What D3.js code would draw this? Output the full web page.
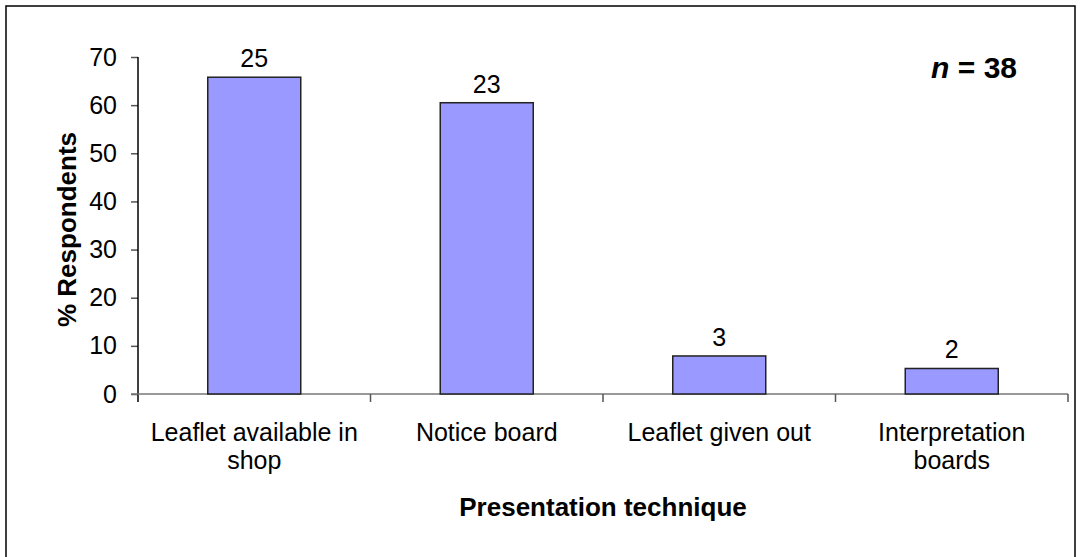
<!DOCTYPE html>
<html>
<head>
<meta charset="utf-8">
<script src="https://cdn.jsdelivr.net/npm/d3@7"></script>
<style>
  body { margin: 0; background: #fff; }
  svg text { font-family: "Liberation Sans", Arial, sans-serif; fill: #000; }
</style>
</head>
<body>
<div id="chart"></div>
<script>

// Data
const categories = ["Leaflet available in shop", "Notice board", "Leaflet given out", "Interpretation boards"];
const percents = [65.8, 60.5, 7.9, 5.3];
const counts = [25, 23, 3, 2];
const yTicks = [0, 10, 20, 30, 40, 50, 60, 70];
const sampleSize = 38;

const width = 1080;
const height = 557;
const margin = { top: 57, right: 12, bottom: 163, left: 138 };

const svg = d3.select("#chart").append("svg")
    .attr("width", width)
    .attr("height", height);

// Outer chart border (bottom edge sits below the window)
svg.append("rect")
    .attr("x", 6).attr("y", 6)
    .attr("width", 1069).attr("height", 570)
    .attr("fill", "none")
    .attr("stroke", "#000")
    .attr("stroke-width", 1.5);

const x = d3.scaleBand()
    .domain(categories)
    .range([margin.left, width - margin.right])
    .paddingInner(0.6)
    .paddingOuter(0.3);

const y = d3.scaleLinear()
    .domain([0, 70])
    .range([height - margin.bottom, margin.top]);

const y0 = y(0);

// Y axis
const yAxis = svg.append("g")
    .attr("transform", "translate(" + margin.left + ",0)")
    .call(d3.axisLeft(y).tickValues(yTicks).tickSize(7).tickPadding(14));
yAxis.select(".domain").remove();
yAxis.selectAll(".tick line").attr("stroke", "#555").attr("stroke-width", 1.5);
yAxis.selectAll(".tick text").style("font-size", "25px");

// y axis line, running a little below zero like Excel
svg.append("line")
    .attr("x1", margin.left).attr("x2", margin.left)
    .attr("y1", margin.top).attr("y2", y0 + 8)
    .attr("stroke", "#000").attr("stroke-width", 1.5);

// X axis line and category boundary ticks
svg.append("line")
    .attr("x1", margin.left - 7).attr("x2", width - margin.right)
    .attr("y1", y0).attr("y2", y0)
    .attr("stroke", "#777").attr("stroke-width", 1.5);

const gap = (x.step() - x.bandwidth()) / 2;
const bounds = categories.map((c) => x(c) - gap).concat([x(categories[categories.length - 1]) + x.bandwidth() + gap]);
svg.selectAll(".xtick")
    .data(bounds.slice(1))
    .enter().append("line")
    .attr("class", "xtick")
    .attr("x1", (d) => d).attr("x2", (d) => d)
    .attr("y1", y0).attr("y2", y0 + 8)
    .attr("stroke", "#555").attr("stroke-width", 1.5);

// Bars
svg.selectAll(".bar")
    .data(percents)
    .enter().append("rect")
    .attr("class", "bar")
    .attr("x", (d, i) => x(categories[i]))
    .attr("y", (d) => y(d))
    .attr("width", x.bandwidth())
    .attr("height", (d) => y0 - y(d))
    .attr("fill", "#9999ff")
    .attr("stroke", "#222")
    .attr("stroke-width", 1.5);

// Count labels above bars
svg.selectAll(".count")
    .data(counts)
    .enter().append("text")
    .attr("class", "count")
    .attr("x", (d, i) => x(categories[i]) + x.bandwidth() / 2)
    .attr("y", (d, i) => y(percents[i]) - 10)
    .attr("text-anchor", "middle")
    .style("font-size", "25px")
    .text((d) => d);

// Category labels, wrapped to the category width
const catLabels = svg.selectAll(".cat")
    .data(categories)
    .enter().append("text")
    .attr("class", "cat")
    .attr("text-anchor", "middle")
    .style("font-size", "25px");

catLabels.each(function(d) {
    const text = d3.select(this);
    const cx = x(d) + x.bandwidth() / 2;
    const words = d.split(" ");
    let lines = [];
    let line = [];
    const probe = text.append("tspan");
    words.forEach(function(w) {
        line.push(w);
        probe.text(line.join(" "));
        if (probe.node().getComputedTextLength() > 210 && line.length > 1) {
            line.pop();
            lines.push(line.join(" "));
            line = [w];
        }
    });
    lines.push(line.join(" "));
    probe.remove();
    lines.forEach(function(l, i) {
        text.append("tspan")
            .attr("x", cx)
            .attr("y", y0 + 47 + i * 28)
            .text(l);
    });
});

// Axis titles
svg.append("text")
    .attr("transform", "translate(76," + ((margin.top + y0) / 2 + 4) + ") rotate(-90)")
    .attr("text-anchor", "middle")
    .style("font-size", "26px")
    .style("font-weight", "bold")
    .text("% Respondents");

svg.append("text")
    .attr("x", (margin.left + width - margin.right) / 2)
    .attr("y", 516)
    .attr("text-anchor", "middle")
    .style("font-size", "26px")
    .style("font-weight", "bold")
    .text("Presentation technique");

// Sample size note
const note = svg.append("text")
    .attr("x", 1017)
    .attr("y", 78)
    .attr("text-anchor", "end")
    .style("font-size", "30px")
    .style("font-weight", "bold");
note.append("tspan").style("font-style", "italic").text("n");
note.append("tspan").text(" = " + sampleSize);

</script>
</body>
</html>
